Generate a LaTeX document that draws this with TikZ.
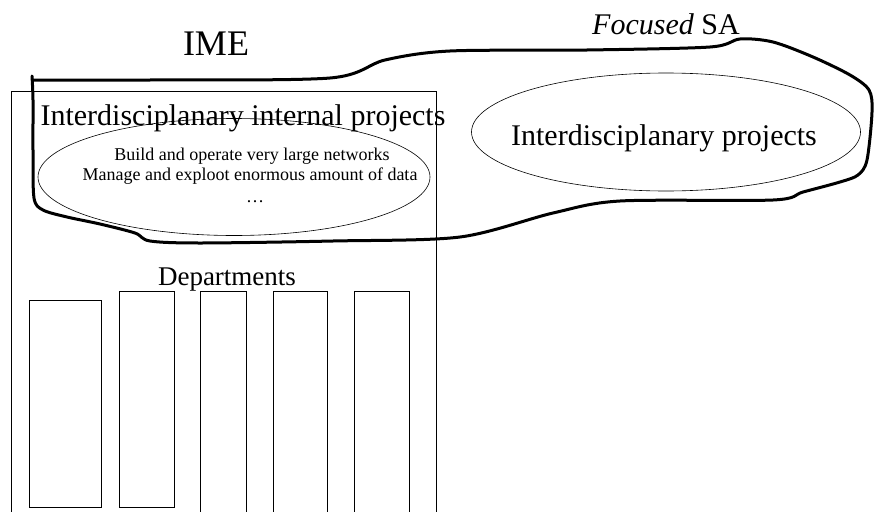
\documentclass[tikz,border=0pt]{standalone}
\usepackage{fontspec}
\setmainfont{Liberation Serif}
\usetikzlibrary{shapes.geometric}
\tikzstyle{unit} = [rectangle, draw=black, line width=0.6pt, anchor=north west, inner sep=0pt]
\tikzstyle{dept} = [rectangle, draw=black, line width=0.9pt, anchor=north west, inner sep=0pt, minimum width=55pt]
\tikzstyle{proj} = [ellipse, draw=black, line width=0.6pt, inner sep=0pt]
\tikzstyle{label} = [anchor=base, inner sep=0pt, text centered]
\tikzstyle{blob} = [line width=3pt, line join=round, line cap=round]

\begin{document}
\begin{tikzpicture}[x=1pt, y=-1pt]
\useasboundingbox (0,0) rectangle (874,511);

\node (ime) [unit, minimum width=425pt, minimum height=440pt] at (11,91) {};
\node (imetitle) [label, font=\fontsize{36}{36}\selectfont] at (216,56) {IME};
\node (internal) [label, font=\fontsize{30}{30}\selectfont] at (243,125) {Interdisciplanary internal projects};
\node (inproj) [proj, minimum width=392pt, minimum height=117pt] at (234,177) {};
\node (line1) [label, font=\fontsize{18}{18}\selectfont] at (252,160) {Build and operate very large networks};
\node (line2) [label, font=\fontsize{18}{18}\selectfont] at (250,180) {Manage and exploot enormous amount of data};
\node (line3) [label, font=\fontsize{18}{18}\selectfont] at (255,202) {\dots};

\node (depts) [label, font=\fontsize{27}{27}\selectfont] at (227,285) {Departments};
\node (dept1) [dept, minimum width=72pt, minimum height=207pt] at (29,300) {};
\node (dept2) [dept, minimum height=216pt] at (119,291) {};
\node (dept3) [dept, minimum width=46pt, minimum height=240pt] at (200,291) {};
\node (dept4) [dept, minimum width=54pt, minimum height=240pt] at (273,291) {};
\node (dept5) [dept, minimum height=240pt] at (354,291) {};

\node (extproj) [proj, minimum width=389pt, minimum height=118pt] at (666,132) {};
\node (extlabel) [label, font=\fontsize{30}{30}\selectfont] at (664,145) {Interdisciplanary projects};
\node (satitle) [label, font=\fontsize{30}{30}\selectfont] at (666,35) {\textit{Focused} SA};

% hand drawn outline of the focused area
\draw [blob] plot [smooth, tension=0.5] coordinates {
  (33,80) (150,80) (330,78) (385,60) (450,51) (587,50) (710,47) (740,39)
  (773,42) (813,57) (850,75) (869,90) (872,112) (867,160) (858,175)
  (840,182) (803,192) (773,200) (620,201) (553,213) (460,237) (333,241)
  (200,243) (150,241) (135,233) (100,224) (67,217) (43,210) (34,198)
  (33,150) (33,100) (32,76)};

\end{tikzpicture}
\end{document}
